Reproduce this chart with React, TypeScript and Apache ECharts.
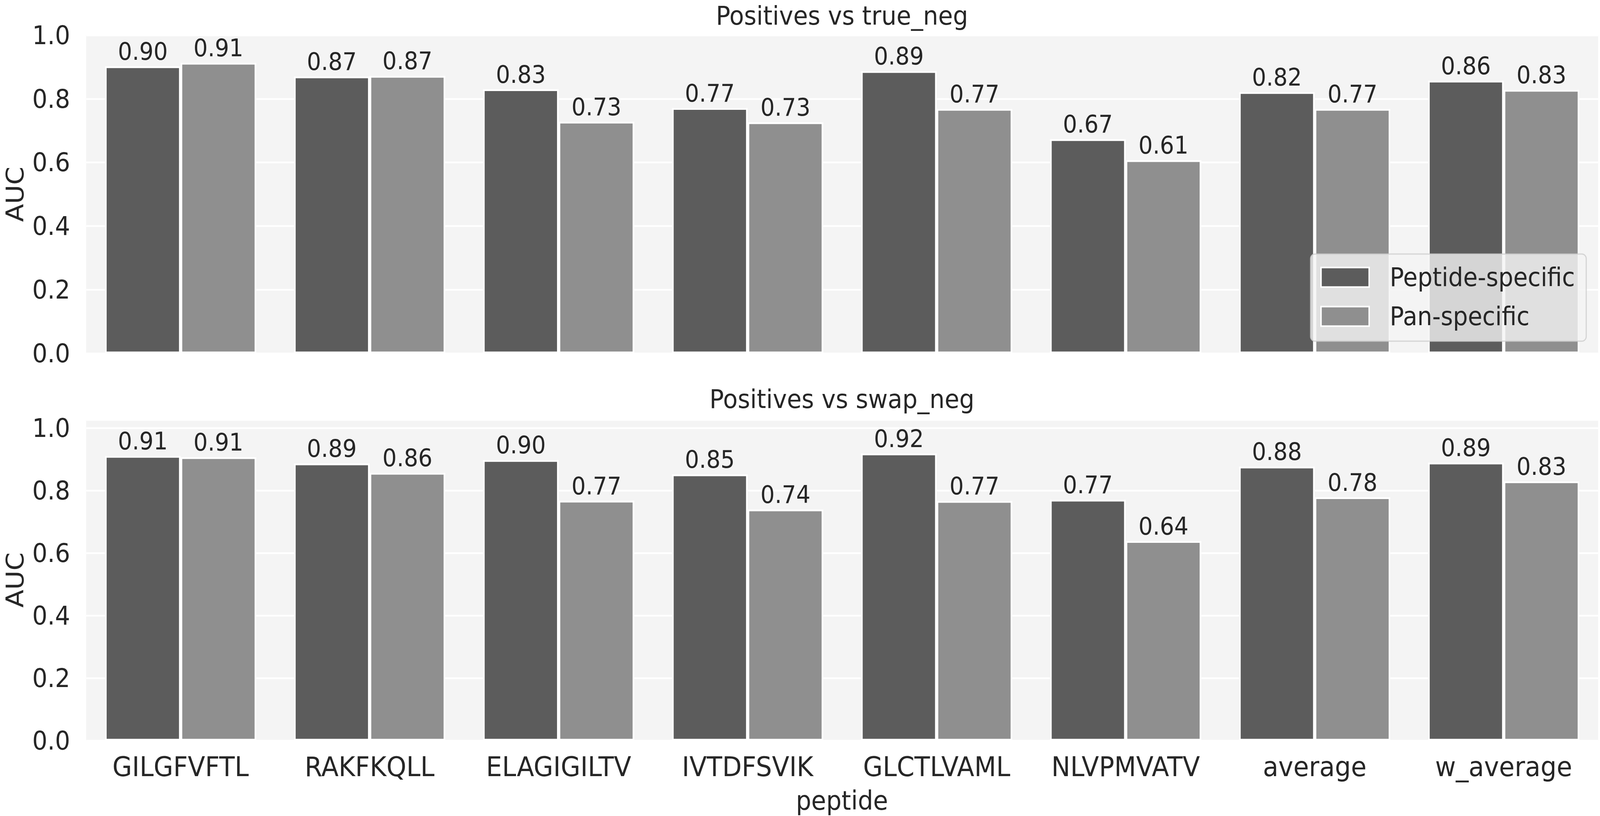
import React, { useEffect, useRef, useState } from 'react';
import * as echarts from 'echarts';

const W = 4422;
const H = 2088;

const categories = ['GILGFVFTL', 'RAKFKQLL', 'ELAGIGILTV', 'IVTDFSVIK', 'GLCTLVAML', 'NLVPMVATV', 'average', 'w_average'];
const seriesNames = ['Peptide-specific', 'Pan-specific'];
const trueNegPeptide = [0.902, 0.870, 0.830, 0.771, 0.887, 0.673, 0.821, 0.857];
const trueNegPan = [0.913, 0.872, 0.728, 0.726, 0.768, 0.607, 0.768, 0.828];
const swapNegPeptide = [0.910, 0.886, 0.897, 0.851, 0.918, 0.770, 0.876, 0.889];
const swapNegPan = [0.906, 0.856, 0.767, 0.739, 0.766, 0.638, 0.778, 0.829];
const panelTitles = ['Positives vs true_neg', 'Positives vs swap_neg'];
const yName = 'AUC';
const xName = 'peptide';

const FONT = 'DejaVu Sans';
const TEXT = '#262626';
const DARK = '#5c5c5c';
const LIGHT = '#8f8f8f';
const BG = '#f4f4f4';

function barSeries(name: string, data: number[], color: string, idx: number) {
  return {
    type: 'bar',
    name,
    xAxisIndex: idx,
    yAxisIndex: idx,
    data,
    barCategoryGap: '20%',
    barGap: '0%',
    itemStyle: { color, borderColor: '#ffffff', borderWidth: 4.5 },
    label: {
      show: true,
      position: 'top',
      distance: 7,
      fontSize: 62,
      fontFamily: FONT,
      color: TEXT,
      formatter: (p: any) => Number(p.value).toFixed(2),
    },
  };
}

function yAxis(idx: number, max: number) {
  return {
    type: 'value',
    gridIndex: idx,
    min: 0,
    max,
    interval: 0.2,
    axisLine: { show: false },
    axisTick: { show: false },
    axisLabel: {
      fontSize: 66,
      fontFamily: FONT,
      color: TEXT,
      margin: 44,
      showMaxLabel: idx === 0,
      formatter: (v: number) => v.toFixed(1),
    },
    splitLine: { show: true, lineStyle: { color: '#ffffff', width: 4.5 } },
  };
}

function xAxis(idx: number, showLabels: boolean) {
  return {
    type: 'category',
    gridIndex: idx,
    data: categories,
    axisLine: { show: false },
    axisTick: { show: false },
    splitLine: { show: false },
    axisLabel: {
      show: showLabels,
      fontSize: 70,
      lineHeight: 70,
      fontFamily: FONT,
      color: TEXT,
      margin: 32,
      interval: 0,
    },
  };
}

function textEl(text: string, x: number, y: number, size: number, rotation = 0) {
  return {
    type: 'text',
    x,
    y,
    rotation,
    style: {
      text,
      fontSize: size,
      lineHeight: 50,
      fontFamily: FONT,
      fill: TEXT,
      align: 'center',
      verticalAlign: 'middle',
    },
  };
}

function getScale() {
  if (typeof window === 'undefined') return { sx: 1, sy: 1 };
  const sx = window.innerWidth / W;
  const sy = window.innerHeight / H;
  return { sx: sx > 0 ? sx : 1, sy: sy > 0 ? sy : 1 };
}

export default function App() {
  const ref = useRef<HTMLDivElement>(null);
  const [scale] = useState(getScale);

  useEffect(() => {
    document.body.style.margin = '0';
    document.body.style.overflow = 'hidden';
    const chart = echarts.init(ref.current!, null, { renderer: 'svg', width: W, height: H });
    const option = {
      animation: false,
      backgroundColor: '#ffffff',
      textStyle: { fontFamily: FONT },
      grid: [
        { left: 238, right: 5, top: 90, height: 814, show: true, backgroundColor: BG, borderWidth: 0 },
        { left: 238, right: 5, top: 1074, height: 821, show: true, backgroundColor: BG, borderWidth: 0 },
      ],
      xAxis: [xAxis(0, false), xAxis(1, true)],
      yAxis: [yAxis(0, 1.0), yAxis(1, 1.026)],
      legend: {
        show: true,
        orient: 'vertical',
        left: 3622,
        top: 650,
        data: seriesNames,
        icon: 'rect',
        itemWidth: 133,
        itemHeight: 50,
        itemGap: 35,
        padding: [27, 31, 31, 27],
        backgroundColor: 'rgba(244,244,244,0.8)',
        borderColor: 'rgba(204,204,204,0.8)',
        borderWidth: 3,
        borderRadius: 12,
        itemStyle: { borderColor: '#ffffff', borderWidth: 4 },
        textStyle: { fontSize: 65, lineHeight: 65, fontFamily: FONT, color: TEXT, padding: [0, 0, 0, 52] },
      },
      series: [
        barSeries(seriesNames[0], trueNegPeptide, DARK, 0),
        barSeries(seriesNames[1], trueNegPan, LIGHT, 0),
        barSeries(seriesNames[0], swapNegPeptide, DARK, 1),
        barSeries(seriesNames[1], swapNegPan, LIGHT, 1),
      ],
      graphic: [
        textEl(panelTitles[0], 2327, 40, 66),
        textEl(panelTitles[1], 2327, 1021, 66),
        textEl(yName, 41, 497, 67, Math.PI / 2),
        textEl(yName, 41, 1484, 67, Math.PI / 2),
        textEl(xName, 2327, 2049, 67),
      ],
    };
    chart.setOption(option as any);
    return () => chart.dispose();
  }, []);

  return (
    <div
      style={{
        position: 'absolute',
        left: 0,
        top: 0,
        width: W * scale.sx,
        height: H * scale.sy,
        overflow: 'hidden',
        background: '#ffffff',
      }}
    >
      <div
        ref={ref}
        style={{
          width: W,
          height: H,
          transform: `scale(${scale.sx}, ${scale.sy})`,
          transformOrigin: '0 0',
          background: '#ffffff',
        }}
      />
    </div>
  );
}
